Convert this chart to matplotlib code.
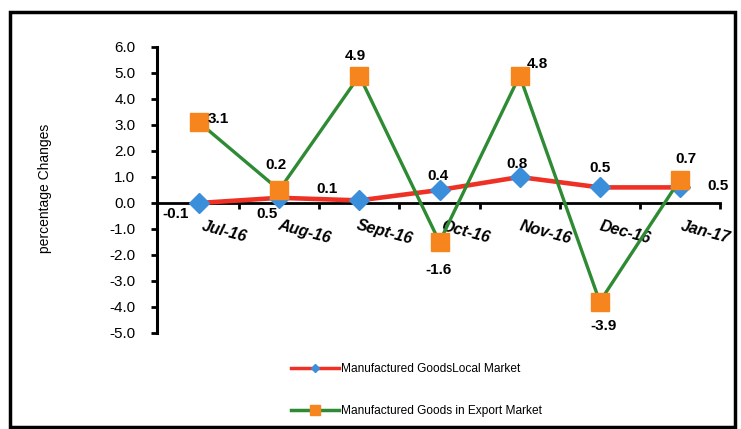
import matplotlib
matplotlib.use("Agg")
import matplotlib.pyplot as plt
from matplotlib.lines import Line2D
from matplotlib.patches import Rectangle

plt.rcParams['font.family'] = ['Liberation Sans', 'DejaVu Sans']

categories = ["Jul-16", "Aug-16", "Sept-16", "Oct-16", "Nov-16", "Dec-16", "Jan-17"]
local_values = [0.0, 0.2, 0.1, 0.5, 1.0, 0.6, 0.6]
export_values = [3.1, 0.5, 4.9, -1.5, 4.9, -3.8, 0.9]
local_labels = ["-0.1", "0.5", "0.1", "0.4", "0.8", "0.5", "0.5"]
export_labels = ["3.1", "0.2", "4.9", "-1.6", "4.8", "-3.9", "0.7"]
yticks = [6.0, 5.0, 4.0, 3.0, 2.0, 1.0, 0.0, -1.0, -2.0, -3.0, -4.0, -5.0]
series_names = ["Manufactured GoodsLocal Market", "Manufactured Goods in Export Market"]
ylabel = "percentage Changes"

W, H = 741, 429
fig = plt.figure(figsize=(W / 100, H / 100), dpi=100)
ax = fig.add_axes([157 / W, 1 - 333 / H, (720 - 157) / W, (333 - 47) / H])

x = list(range(len(categories)))
red = "#EE3124"
blue = "#3B8FDA"
green = "#2E8B34"
orange = "#F7851E"

ax.plot(x, local_values, color=red, lw=3.3, marker="D", ms=10,
        markerfacecolor=blue, markeredgecolor=blue, zorder=3, solid_joinstyle="round")
ax.plot(x, export_values, color=green, lw=2.4, marker="s", ms=12.5,
        markerfacecolor=orange, markeredgecolor=orange, zorder=4)

ax.set_xlim(-0.525, 6.5)
ax.set_ylim(-5, 6)
ax.set_yticks(yticks)
ax.set_yticklabels([f"{v:.1f}" for v in yticks], fontsize=11)

for s in ["top", "right"]:
    ax.spines[s].set_visible(False)
ax.spines["left"].set_linewidth(2.2)
ax.spines["bottom"].set_position(("data", 0))
ax.spines["bottom"].set_linewidth(2.0)
ax.set_xticks([i + 0.5 for i in x])
ax.set_xticklabels([])
ax.tick_params(axis="y", direction="out", length=4.5, width=2, pad=11)
ax.tick_params(axis="x", direction="out", length=4, width=2)

for i, c in enumerate(categories):
    ax.text(i + 0.32, -1.12, c, rotation=-15, ha="center", va="center",
            fontsize=11.5, fontweight="bold", fontstyle="italic", rotation_mode="anchor")

local_off = [(-24, -11), (-12, -16), (-32, 11), (-2, 14), (-3, 13), (0, 19), (38, 1)]
export_off = [(19, 3), (-3, 25), (-4, 20), (-1, -28), (18, 12), (4, -24), (6, 21)]
for i in x:
    ax.annotate(local_labels[i], (i, local_values[i]), xytext=local_off[i],
                textcoords="offset pixels", ha="center", va="center",
                fontsize=11, fontweight="bold", zorder=6)
    ax.annotate(export_labels[i], (i, export_values[i]), xytext=export_off[i],
                textcoords="offset pixels", ha="center", va="center",
                fontsize=11, fontweight="bold", zorder=6)

fig.text(45 / W, 1 - 188 / H, ylabel, rotation=90, ha="center", va="center", fontsize=10)

handles = [
    Line2D([], [], color=red, lw=2.5, marker="D", ms=4.5, markerfacecolor=blue, markeredgecolor=blue),
    Line2D([], [], color=green, lw=2.5, marker="s", ms=6.5, markerfacecolor=orange, markeredgecolor=orange),
]
fig.legend(handles, series_names, loc="upper left", bbox_to_anchor=(285 / W, 1 - 357 / H),
           frameon=False, fontsize=8.6, handlelength=4.0, handletextpad=0.2,
           labelspacing=2.5, borderpad=0)

fig.patches.append(Rectangle((10 / W, 2 / H), 725 / W, 415 / H, transform=fig.transFigure,
                             fill=False, edgecolor="black", lw=2.5))

fig.savefig("out.png", dpi=100)
